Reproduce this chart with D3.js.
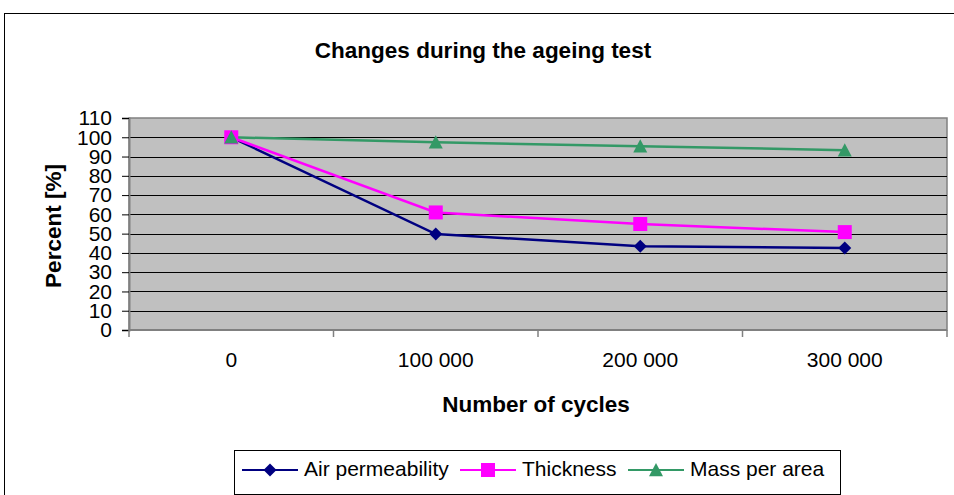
<!DOCTYPE html>
<html>
<head>
<meta charset="utf-8">
<script src="https://cdn.jsdelivr.net/npm/d3@7/dist/d3.min.js"></script>
<style>
  body { margin: 0; background: #fff; }
  svg { font-family: "Liberation Sans", Arial, sans-serif; }
</style>
</head>
<body>
<div id="chart-container"></div>
<script>
var cycles = ["0", "100 000", "200 000", "300 000"];
var airPermeability = [100, 49.8, 43.5, 42.6];
var thickness = [100, 61, 55, 50.8];
var massPerArea = [100, 97.4, 95.4, 93.3];
var yTicks = [0, 10, 20, 30, 40, 50, 60, 70, 80, 90, 100, 110];

// excel-like markers
var diamond = {draw: function(ctx, size) { var r = Math.sqrt(size) / 2;
  ctx.moveTo(0, -r); ctx.lineTo(r, 0); ctx.lineTo(0, r); ctx.lineTo(-r, 0); ctx.closePath(); }};
var square = {draw: function(ctx, size) { var r = Math.sqrt(size) / 2;
  ctx.rect(-r, -r, 2 * r, 2 * r); }};
var triangle = {draw: function(ctx, size) { var r = Math.sqrt(size) / 2;
  ctx.moveTo(0, -r); ctx.lineTo(r, r * 0.9); ctx.lineTo(-r, r * 0.9); ctx.closePath(); }};

var series = [
  {name: "Air permeability", values: airPermeability, color: "#000080", symbol: diamond, size: 169},
  {name: "Thickness", values: thickness, color: "#FF00FF", symbol: square, size: 196},
  {name: "Mass per area", values: massPerArea, color: "#339966", symbol: triangle, size: 196}
];

var svg = d3.select("#chart-container").append("svg").attr("width", 954).attr("height", 495);
var margin = {top: 118, left: 129, right: 947, bottom: 330};

// chart border
svg.append("rect").attr("x", 4.5).attr("y", 13.5).attr("width", 960).attr("height", 500)
  .attr("fill", "#fff").attr("stroke", "#000").attr("stroke-width", 1);

var x = d3.scaleBand().domain(cycles).range([margin.left, margin.right]);
var y = d3.scaleLinear().domain([0, 110]).range([margin.bottom, margin.top]);

svg.append("rect").attr("x", margin.left).attr("y", margin.top)
  .attr("width", margin.right - margin.left).attr("height", margin.bottom - margin.top)
  .attr("fill", "#C0C0C0").attr("stroke", "#808080").attr("stroke-width", 1.5);

// gridlines
svg.append("g").selectAll("line").data(yTicks.filter(function(d) { return d > 0 && d < 110; }))
  .enter().append("line")
  .attr("x1", margin.left).attr("x2", margin.right)
  .attr("y1", function(d) { return Math.round(y(d)) + 0.5; })
  .attr("y2", function(d) { return Math.round(y(d)) + 0.5; })
  .attr("stroke", "#000").attr("stroke-width", 1);

// y axis
var yAxis = d3.axisLeft(y).tickValues(yTicks).tickSize(7).tickPadding(10);
var gy = svg.append("g").attr("transform", "translate(" + margin.left + ",0)").call(yAxis);
gy.select(".domain").attr("stroke", "#808080").attr("stroke-width", 2);
gy.selectAll(".tick line").attr("stroke", "#000");
gy.selectAll("text").attr("font-size", 21).attr("fill", "#000").attr("font-family", "Liberation Sans, Arial, sans-serif");

// x axis: ticks between categories
var bounds = d3.range(cycles.length + 1).map(function(i) { return margin.left + i * x.step(); });
var gx = svg.append("g");
gx.append("line").attr("x1", margin.left).attr("x2", margin.right)
  .attr("y1", margin.bottom).attr("y2", margin.bottom).attr("stroke", "#808080").attr("stroke-width", 2);
gx.selectAll("line.tk").data(bounds).enter().append("line").attr("class", "tk")
  .attr("x1", function(d) { return d; }).attr("x2", function(d) { return d; })
  .attr("y1", margin.bottom).attr("y2", margin.bottom + 7).attr("stroke", "#808080").attr("stroke-width", 1.5);
gx.selectAll("text").data(cycles).enter().append("text")
  .attr("x", function(d) { return x(d) + x.bandwidth() / 2; })
  .attr("y", 367).attr("text-anchor", "middle").attr("font-size", 21)
  .text(function(d) { return d; });

// titles
svg.append("text").attr("x", 483).attr("y", 58).attr("text-anchor", "middle")
  .attr("font-size", 22.5).attr("font-weight", "bold").text("Changes during the ageing test");
svg.append("text").attr("x", 536).attr("y", 412).attr("text-anchor", "middle")
  .attr("font-size", 22.5).attr("font-weight", "bold").text("Number of cycles");
svg.append("text").attr("transform", "translate(61," + 226 + ") rotate(-90)").attr("text-anchor", "middle")
  .attr("font-size", 22.5).attr("font-weight", "bold").text("Percent [%]");

// lines + markers
var line = d3.line()
  .x(function(d, i) { return x(cycles[i]) + x.bandwidth() / 2; })
  .y(function(d) { return y(d); });

series.forEach(function(s) {
  svg.append("path").datum(s.values).attr("d", line)
    .attr("fill", "none").attr("stroke", s.color).attr("stroke-width", 2.5);
});
series.forEach(function(s) {
  svg.append("g").selectAll("path").data(s.values).enter().append("path")
    .attr("d", d3.symbol().type(s.symbol).size(s.size))
    .attr("transform", function(d, i) {
      return "translate(" + (x(cycles[i]) + x.bandwidth() / 2) + "," + y(d) + ")";
    })
    .attr("fill", s.color);
});

// legend
var legend = svg.append("g");
legend.append("rect").attr("x", 234.5).attr("y", 450.5).attr("width", 606).attr("height", 44)
  .attr("fill", "#fff").attr("stroke", "#000");
var legendX = [242, 460, 628];
series.forEach(function(s, i) {
  var g = legend.append("g").attr("transform", "translate(" + legendX[i] + ",470)");
  g.append("line").attr("x1", 0).attr("x2", 56).attr("stroke", s.color).attr("stroke-width", 2);
  g.append("path").attr("d", d3.symbol().type(s.symbol).size(s.size)).attr("transform", "translate(28,0)").attr("fill", s.color);
  g.append("text").attr("x", 62).attr("y", 5.5).attr("font-size", 21).text(s.name);
});
</script>
</body>
</html>
